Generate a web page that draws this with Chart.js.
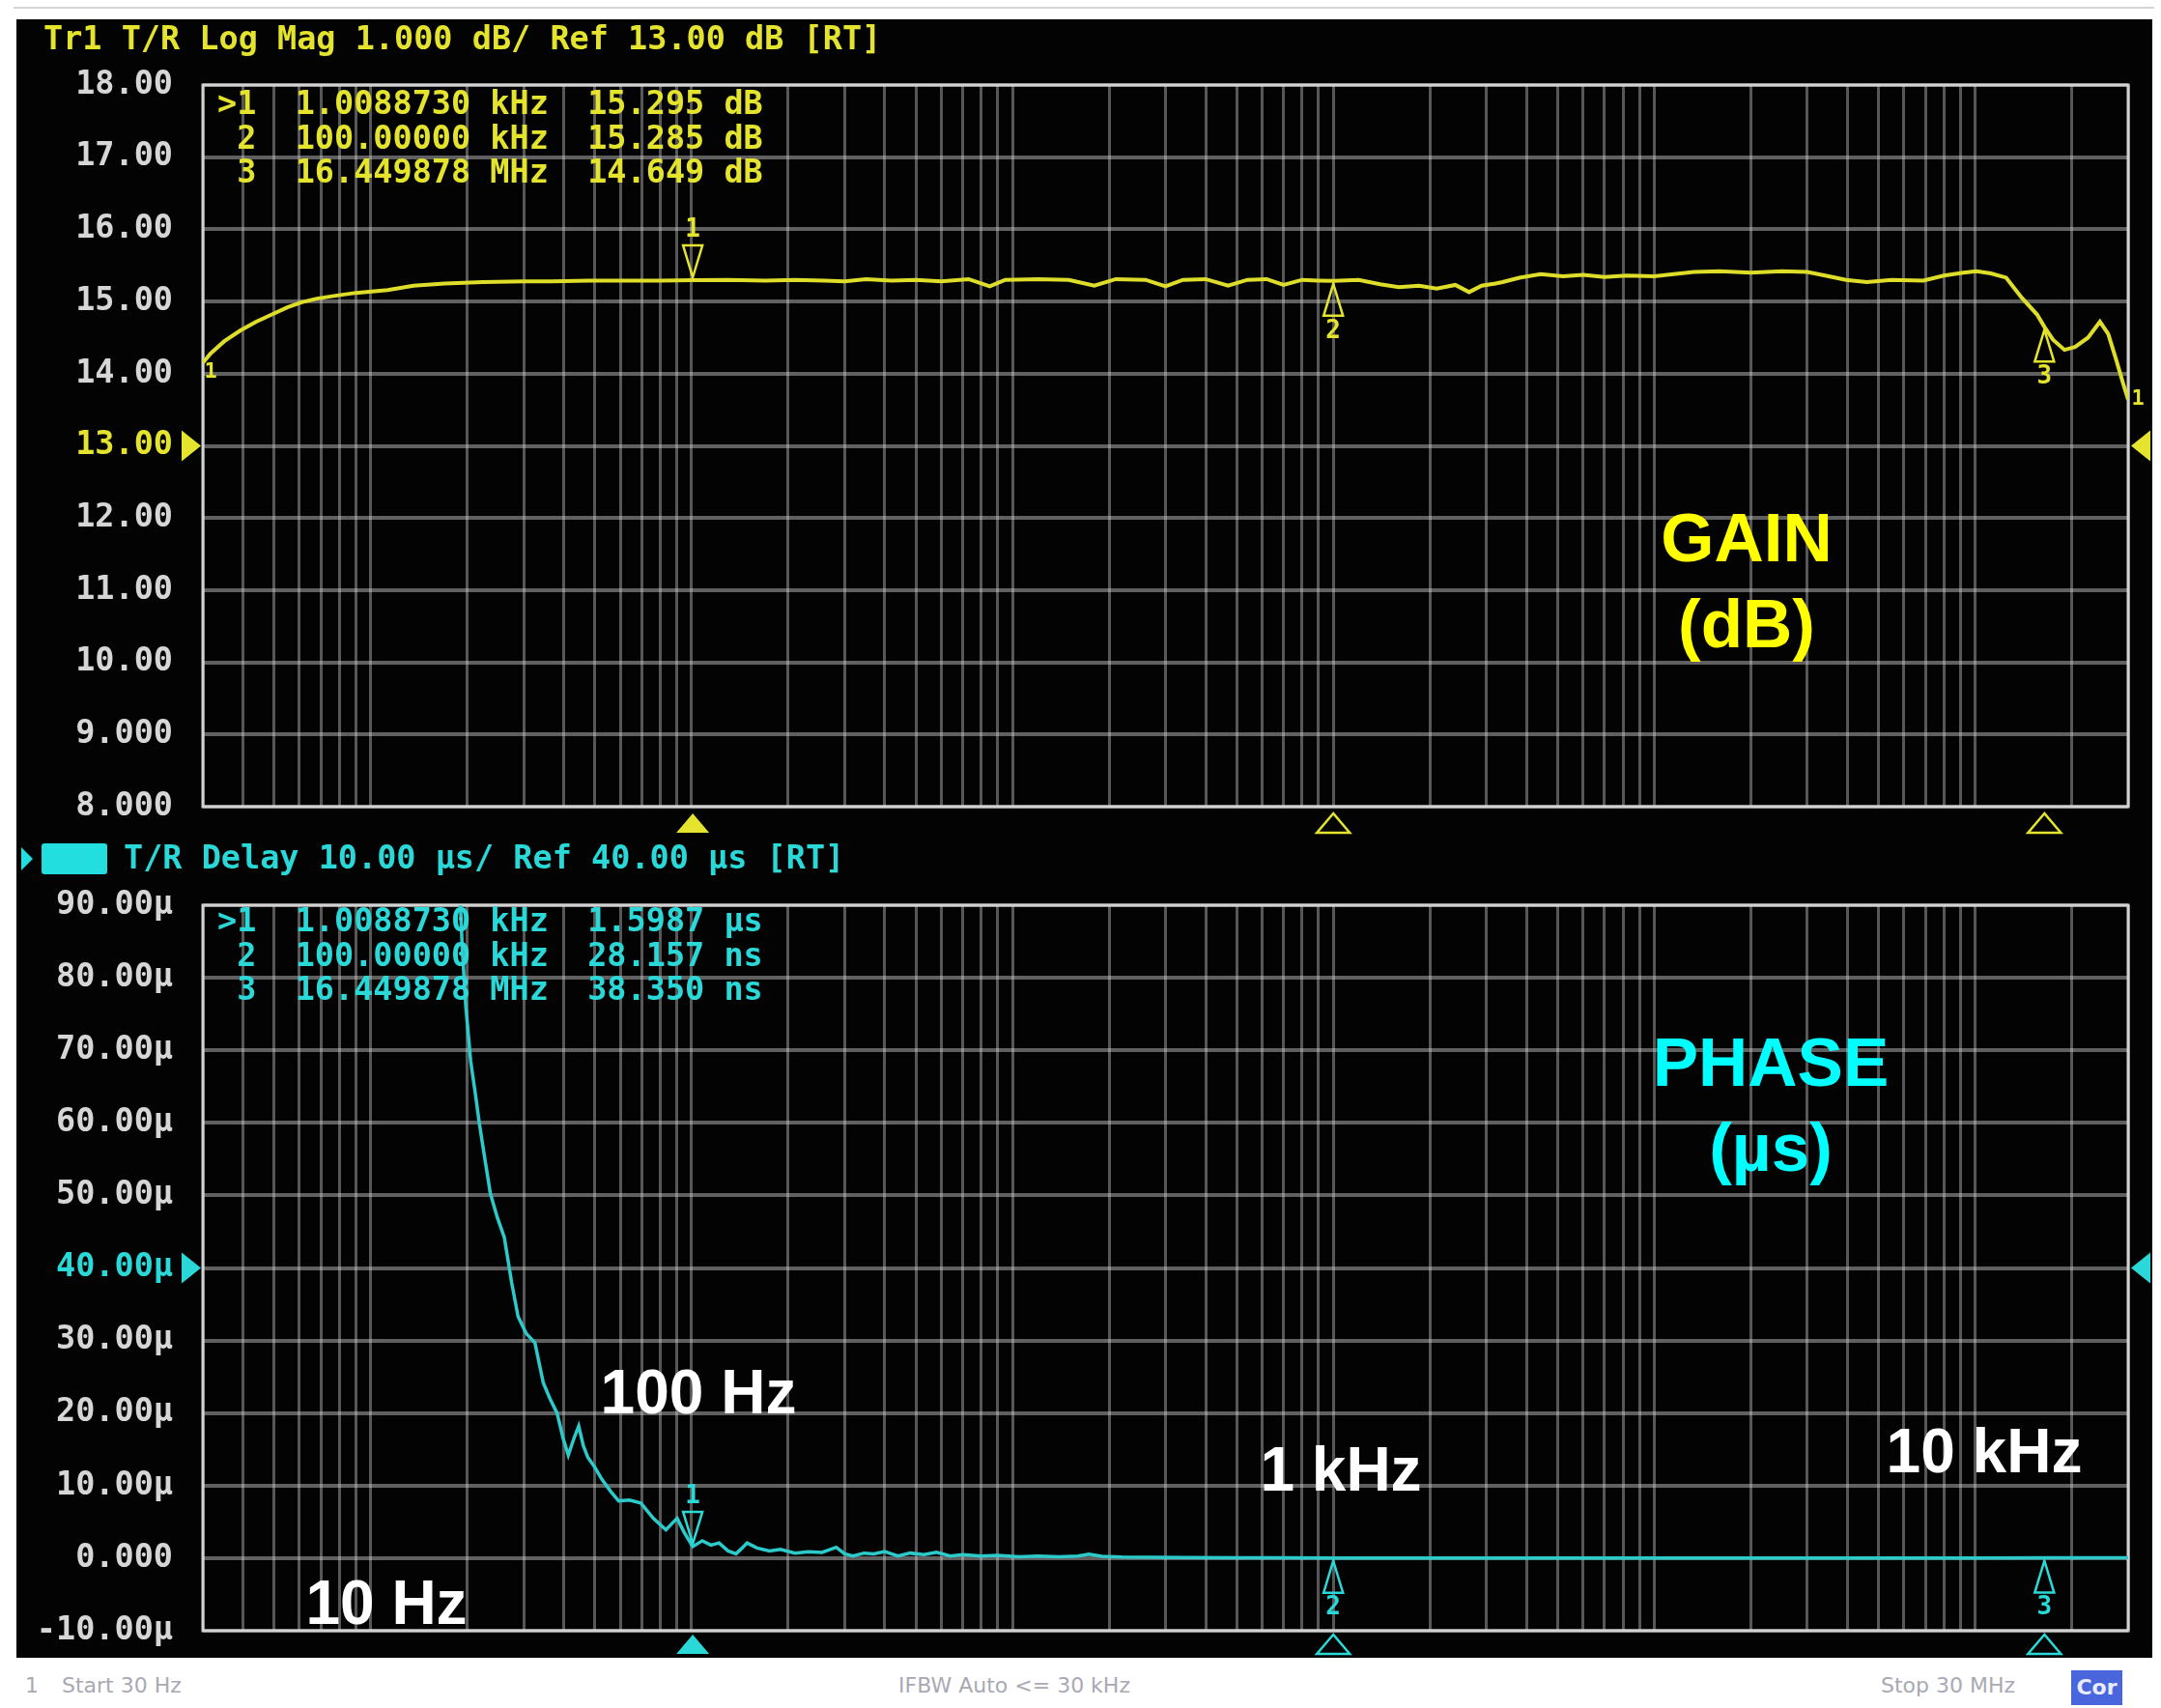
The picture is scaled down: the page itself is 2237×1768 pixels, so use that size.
<!DOCTYPE html>
<html>
<head>
<meta charset="utf-8">
<script src="https://cdn.jsdelivr.net/npm/chart.js@4.4.1/dist/chart.umd.min.js"></script>
<style>
  html, body { margin: 0; padding: 0; background: #ffffff; width: 2237px; height: 1768px; overflow: hidden; }
  #topRule { position: absolute; left: 14px; top: 7px; width: 2216px; height: 2px; background: #d4d4d4; }
  #screen { position: absolute; left: 17px; top: 20px; width: 2211px; height: 1696px; background: #030303; }
  canvas { position: absolute; }
  .mono { position: absolute; font-family: "DejaVu Sans Mono", monospace; font-weight: bold; font-size: 33.5px;
          white-space: pre; line-height: 35.7px; }
  .big { position: absolute; font-family: "Liberation Sans", Arial, sans-serif; font-weight: bold; white-space: nowrap;
         line-height: 1; transform: translate(-50%, -50%); text-align: center; }
  .foot { position: absolute; font-family: "DejaVu Sans", sans-serif; font-size: 22px; color: #a9a9b3; top: 1732px; line-height: 26px; white-space: pre; }
  #cor { position: absolute; left: 2144px; top: 1729px; width: 53px; height: 36px; background: #4a66dc; color: #e8ecff;
         font-family: "DejaVu Sans", sans-serif; font-weight: bold; font-size: 22px; line-height: 36px; text-align: center; }
  #chBox { position: absolute; left: 43px; top: 873px; width: 68px; height: 32px; background: #22dede; border-radius: 3px; }
  #chArrow { position: absolute; left: 22px; top: 877px; width: 0; height: 0; border-top: 12px solid transparent;
             border-bottom: 12px solid transparent; border-left: 12px solid #22dede; }
</style>
</head>
<body>
<div id="topRule"></div>
<div id="screen"></div>
<canvas id="gainChart" width="2209" height="860" style="left:19px;top:20px;width:2209px;height:860px"></canvas>
<canvas id="delayChart" width="2209" height="836" style="left:19px;top:880px;width:2209px;height:836px"></canvas>

<div class="mono" style="left:45px;top:22px;color:#e4e42e">Tr1 T/R Log Mag 1.000 dB/ Ref 13.00 dB [RT]</div>
<div class="mono" id="gainReadout" style="left:225px;top:89px;color:#e4e42e"></div>

<div id="chArrow"></div>
<div id="chBox"></div>
<div class="mono" style="left:128px;top:870px;color:#2ad8d8">T/R Delay 10.00 µs/ Ref 40.00 µs [RT]</div>
<div class="mono" id="delayReadout" style="left:225px;top:935px;color:#2ad8d8"></div>

<div class="big" style="left:1808px;top:556px;font-size:71px;color:#ffff00">GAIN</div>
<div class="big" style="left:1808px;top:645px;font-size:71px;color:#ffff00">(dB)</div>
<div class="big" style="left:1833px;top:1099px;font-size:71px;color:#00ffff">PHASE</div>
<div class="big" style="left:1833px;top:1187px;font-size:71px;color:#00ffff">(µs)</div>

<div class="big" style="left:723px;top:1441px;font-size:64px;color:#ffffff">100 Hz</div>
<div class="big" style="left:1388px;top:1521px;font-size:64px;color:#ffffff">1 kHz</div>
<div class="big" style="left:2054px;top:1502px;font-size:64px;color:#ffffff">10 kHz</div>
<div class="big" style="left:400px;top:1659px;font-size:64px;color:#ffffff">10 Hz</div>

<div class="foot" style="left:26px">1</div>
<div class="foot" style="left:64px">Start 30 Hz</div>
<div class="foot" style="left:930px">IFBW Auto &lt;= 30 kHz</div>
<div class="foot" style="left:1947px">Stop 30 MHz</div>
<div id="cor">Cor</div>

<script>
// ---- sweep range and graticule ----
const startHz = 30;
const stopHz = 3e7;
const gainTicks = [8, 9, 10, 11, 12, 13, 14, 15, 16, 17, 18];
const delayTicks = [-10, 0, 10, 20, 30, 40, 50, 60, 70, 80, 90];
const gainRef = 13;
const delayRef = 40;

// ---- marker table (frequency, gain dB, delay µs) ----
const markerHz = [1008.873, 100000, 16449878];
const markerGainDb = [15.295, 15.285, 14.649];
const markerDelayUs = [1.5987, 0.028157, 0.03835];

// ---- trace 1: T/R log magnitude ----
const gainHz = [30, 31.7, 35, 39.3, 44, 49.8, 55, 61, 68, 77.6, 90, 113, 136, 170, 223, 300, 366, 480, 600, 800,
  1008.873, 1300, 1700, 2100, 2600, 3000, 3500, 4200, 5000, 6000, 7300, 8500, 9500, 12000, 15000, 18000, 21000,
  26000, 30000, 34000, 40000, 47000, 54000, 62000, 70000, 80000, 90000, 100000, 120000, 140000, 160000, 185000,
  210000, 240000, 265000, 290000, 320000, 337000, 380000, 443000, 520000, 600000, 700000, 820000, 1000000,
  1150000, 1330000, 1600000, 2000000, 2500000, 3000000, 3500000, 3960000, 4600000, 5500000, 6900000, 8000000,
  9200000, 10100000, 11200000, 12500000, 14000000, 15600000, 16449878, 17500000, 19000000, 20500000, 22500000,
  24500000, 26000000, 27500000, 29000000, 30000000];
const gainDb = [14.15, 14.28, 14.45, 14.6, 14.72, 14.83, 14.92, 14.99, 15.04, 15.08, 15.12, 15.16, 15.22, 15.25,
  15.27, 15.28, 15.28, 15.29, 15.29, 15.29,
  15.295, 15.3, 15.29, 15.3, 15.29, 15.28, 15.31, 15.29, 15.3, 15.28, 15.31, 15.21, 15.3, 15.31, 15.3, 15.22, 15.31,
  15.3, 15.21, 15.3, 15.31, 15.22, 15.3, 15.31, 15.23, 15.3, 15.29, 15.285, 15.3, 15.24, 15.2, 15.22,
  15.18, 15.23, 15.13, 15.22, 15.25, 15.27, 15.33, 15.38, 15.35, 15.37, 15.34, 15.36, 15.35,
  15.38, 15.41, 15.42, 15.4, 15.42, 15.41, 15.35, 15.3, 15.27, 15.3, 15.29, 15.36,
  15.4, 15.42, 15.39, 15.33, 15.05, 14.82, 14.649, 14.47, 14.33, 14.37, 14.5,
  14.72, 14.55, 14.2, 13.85, 13.64];

// ---- trace 2: T/R group delay (µs) ----
const delayHz = [188, 193, 198, 205, 212, 218, 227, 236, 248, 261, 275, 288, 305, 325, 345, 362, 381, 398, 413,
  430, 445, 460, 475, 500, 525, 560, 593, 640, 695, 760, 832, 870, 902, 950, 1008.873, 1080, 1150, 1218, 1300,
  1376, 1430, 1490, 1600, 1750, 1893, 2100, 2311, 2550, 2825, 3000, 3182, 3450, 3700, 4000, 4400, 4800, 5300,
  5800, 6400, 7000, 8000, 9000, 10500, 12000, 14000, 16000, 17300, 19000, 22000, 27000, 35000, 50000, 70000,
  100000, 200000, 500000, 1000000, 3000000, 10000000, 16449878, 30000000];
const delayUs = [96, 84, 76, 68.5, 64, 60, 55, 50.3, 47, 44.2, 38, 33.3, 31, 29.7, 24.2, 22, 20, 16.5, 14.2,
  16.5, 18.2, 15.5, 13.9, 12.5, 10.9, 9.2, 7.9, 8.0, 7.6, 5.5, 3.9, 4.8, 5.5, 3.5, 1.5987, 2.4, 1.8, 2.1, 1.0,
  0.6, 1.3, 2.1, 1.4, 1.0, 1.2, 0.7, 0.9, 0.8, 1.5, 0.6, 0.3, 0.7, 0.6, 0.9, 0.3, 0.7, 0.5,
  0.8, 0.3, 0.5, 0.3, 0.4, 0.2, 0.3, 0.2, 0.3, 0.55, 0.25, 0.15, 0.12, 0.1, 0.06, 0.04,
  0.028157, 0.03, 0.03, 0.035, 0.035, 0.036, 0.03835, 0.04];

// vertical graticule: 1..9 per decade across the sweep
const gridHz = [];
for (let d = 10; d <= 1e7; d *= 10) {
  for (let k = 1; k <= 9; k++) {
    const v = k * d;
    if (v >= startHz && v <= stopHz) gridHz.push(v);
  }
}

const YELLOW_TXT = '#e4e42e';
const YELLOW_TRACE = '#dede2a';
const CYAN_TXT = '#2ad8d8';
const CYAN_TRACE = '#2ccaca';
const LABEL_GRAY = '#d6d6d6';
const MONO = '"DejaVu Sans Mono", monospace';

// ---- marker readouts ----
function freqText(f) {
  return f >= 1e6 ? (f / 1e6).toPrecision(8) + ' MHz' : (f / 1e3).toPrecision(8) + ' kHz';
}
function delayText(us) {
  return us >= 1 ? us.toPrecision(5) + ' µs' : (us * 1000).toPrecision(5) + ' ns';
}
document.getElementById('gainReadout').textContent = markerHz.map((f, i) =>
  (i === 0 ? '>' : ' ') + (i + 1) + '  ' + freqText(f) + '  ' + markerGainDb[i].toFixed(3) + ' dB').join('\n');
document.getElementById('delayReadout').textContent = markerHz.map((f, i) =>
  (i === 0 ? '>' : ' ') + (i + 1) + '  ' + freqText(f) + '  ' + delayText(markerDelayUs[i])).join('\n');

// ---- screen decorations drawn through the chart scales ----
function screenDecor(o) {
  return {
    id: 'screenDecor',
    beforeDatasetsDraw(chart) {
      const { ctx, chartArea: a } = chart;
      ctx.save();
      ctx.strokeStyle = '#d2d2d2';
      ctx.lineWidth = 3;
      ctx.strokeRect(a.left, a.top, a.right - a.left, a.bottom - a.top);
      ctx.restore();
    },
    afterDatasetsDraw(chart) {
      const { ctx, chartArea: a, scales: { x, y } } = chart;
      ctx.save();
      ctx.lineWidth = 2.5;
      ctx.strokeStyle = o.color;
      ctx.fillStyle = o.color;
      ctx.font = 'bold 26px ' + MONO;
      ctx.textAlign = 'center';
      ctx.textBaseline = 'middle';
      o.freqs.forEach((f, i) => {
        const px = x.getPixelForValue(f);
        const py = y.getPixelForValue(o.values[i]);
        ctx.beginPath();
        if (i === 0) {
          ctx.moveTo(px, py - 3); ctx.lineTo(px - 10, py - 36); ctx.lineTo(px + 10, py - 36);
          ctx.closePath(); ctx.stroke();
          ctx.fillText(String(i + 1), px, py - 52);
        } else {
          ctx.moveTo(px, py + 3); ctx.lineTo(px - 10, py + 36); ctx.lineTo(px + 10, py + 36);
          ctx.closePath(); ctx.stroke();
          ctx.fillText(String(i + 1), px, py + 52);
        }
        // position flags under the graticule
        const ty = a.bottom + o.flagGap;
        ctx.beginPath();
        ctx.moveTo(px, ty); ctx.lineTo(px - 17, ty + 20); ctx.lineTo(px + 17, ty + 20); ctx.closePath();
        if (i === 0) ctx.fill(); else ctx.stroke();
      });
      // reference level arrows
      const ry = y.getPixelForValue(o.ref);
      ctx.beginPath();
      ctx.moveTo(a.left - 2, ry); ctx.lineTo(a.left - 22, ry - 16); ctx.lineTo(a.left - 22, ry + 16); ctx.closePath();
      ctx.fill();
      ctx.beginPath();
      ctx.moveTo(a.right + 3, ry); ctx.lineTo(a.right + 23, ry - 16); ctx.lineTo(a.right + 23, ry + 16); ctx.closePath();
      ctx.fill();
      // trace end tags
      if (o.endTags) {
        ctx.font = 'bold 22px ' + MONO;
        const ds = chart.data.datasets[0].data;
        ctx.fillText('1', a.left + 8, y.getPixelForValue(ds[0].y) + 10);
        ctx.fillText('1', a.right + 10, y.getPixelForValue(ds[ds.length - 1].y));
      }
      ctx.restore();
    }
  };
}

function freqAxis() {
  return {
    type: 'logarithmic', min: startHz, max: stopHz,
    afterBuildTicks: s => { s.ticks = gridHz.map(v => ({ value: v })); },
    afterFit: s => { s.height = 0; },
    ticks: { display: false },
    grid: { color: 'rgba(205,205,205,0.42)', lineWidth: 3, drawTicks: false },
    border: { display: false }
  };
}

function levelAxis(ticks, ref, refColor, fmt) {
  return {
    type: 'linear', min: ticks[0], max: ticks[ticks.length - 1],
    afterBuildTicks: s => { s.ticks = ticks.map(v => ({ value: v })); },
    // fixed label column; the graticule spans the full layout box
    afterFit: s => { s.width = 191; s.paddingTop = 0; s.paddingBottom = 0; },
    ticks: {
      padding: 31,
      color: c => (c.tick && c.tick.value === ref ? refColor : LABEL_GRAY),
      font: { family: MONO, size: 33.5, weight: 'bold' },
      callback: v => fmt(v)
    },
    grid: { color: 'rgba(210,210,210,0.45)', lineWidth: 4, drawTicks: false },
    border: { display: false }
  };
}

const fmtGain = v => (Math.abs(v) >= 10 ? v.toFixed(2) : v.toFixed(3));
const fmtDelay = v => (v === 0 ? '0.000' : (Math.abs(v) >= 10 ? v.toFixed(2) : v.toFixed(3)) + 'µ');

new Chart(document.getElementById('gainChart'), {
  type: 'line',
  data: {
    datasets: [{
      data: gainHz.map((f, i) => ({ x: f, y: gainDb[i] })),
      borderColor: YELLOW_TRACE, borderWidth: 4, pointRadius: 0, tension: 0, fill: false
    }]
  },
  options: {
    responsive: false, animation: false, devicePixelRatio: 1,
    layout: { padding: { left: 0, top: 68, right: 25, bottom: 45 } },
    plugins: { legend: { display: false }, tooltip: { enabled: false } },
    scales: { x: freqAxis(), y: levelAxis(gainTicks, gainRef, YELLOW_TXT, fmtGain) }
  },
  plugins: [screenDecor({ color: YELLOW_TXT, freqs: markerHz, values: markerGainDb, ref: gainRef, flagGap: 7, endTags: true })]
});

new Chart(document.getElementById('delayChart'), {
  type: 'line',
  data: {
    datasets: [{
      data: delayHz.map((f, i) => ({ x: f, y: delayUs[i] })),
      borderColor: CYAN_TRACE, borderWidth: 3.5, pointRadius: 0, tension: 0, fill: false
    }]
  },
  options: {
    responsive: false, animation: false, devicePixelRatio: 1,
    layout: { padding: { left: 0, top: 57, right: 25, bottom: 28 } },
    plugins: { legend: { display: false }, tooltip: { enabled: false } },
    scales: { x: freqAxis(), y: levelAxis(delayTicks, delayRef, CYAN_TXT, fmtDelay) }
  },
  plugins: [screenDecor({ color: CYAN_TXT, freqs: markerHz, values: markerDelayUs, ref: delayRef, flagGap: 4, endTags: false })]
});
</script>
</body>
</html>
